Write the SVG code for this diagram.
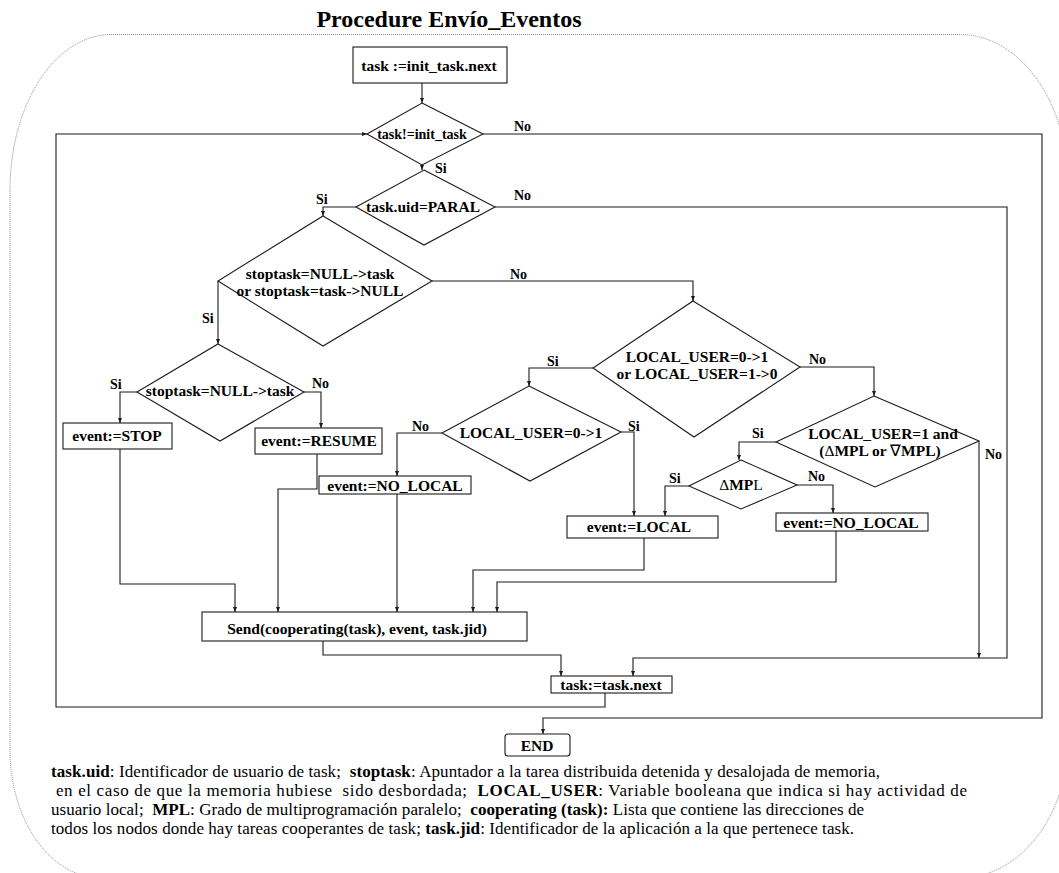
<svg xmlns="http://www.w3.org/2000/svg" width="1059" height="873" viewBox="0 0 1059 873">
  <style>
    .ln { fill: none; stroke: #1a1a1a; stroke-width: 1.1; }
    .nd { fill: #ffffff; stroke: #1a1a1a; stroke-width: 1.1; }
    .t { font-family: "Liberation Serif", "Times New Roman", serif; font-weight: bold; font-size: 15.5px; fill: #000; text-anchor: middle; }
    .lb { font-family: "Liberation Serif", "Times New Roman", serif; font-weight: bold; font-size: 14px; fill: #000; }
    .lg { font-family: "Liberation Serif", "Times New Roman", serif; font-size: 17px; fill: #000; }
    .b { font-weight: bold; }
    .n { font-weight: normal; }
  </style>
  <defs>
    <marker id="arr" viewBox="0 0 6 6" refX="6" refY="3" markerWidth="5" markerHeight="5" markerUnits="userSpaceOnUse" orient="auto">
      <path d="M0,0.6 L6,3 L0,5.4 z" fill="#1a1a1a"/>
    </marker>
  </defs>

  <rect width="1059" height="873" fill="#ffffff"/>

  <!-- dotted frame around the procedure -->
  <path d="M111,34.5 H960 A108,150 0 0 1 1068,184.5 V740 A108,138 0 0 1 960,878 H101 A91,128 0 0 1 10,750 V190 A101,155.5 0 0 1 111,34.5 Z" fill="none" stroke="#8a8a8a" stroke-width="1" stroke-dasharray="1 1"/>

  <text x="449" y="27" style="font-family: 'Liberation Serif', 'Times New Roman', serif; font-weight: bold; font-size: 24px; text-anchor: middle;">Procedure Envío_Eventos</text>

  <!-- connectors -->
  <g id="connectors">
    <polyline class="ln" points="422,83 422,103" marker-end="url(#arr)"/>
    <polyline class="ln" points="422,165 422,170" marker-end="url(#arr)"/>
    <polyline class="ln" points="605,693 605,707 56,707 56,134 367,134" marker-end="url(#arr)"/>
    <polyline class="ln" points="483,134 1042,134 1042,718 543,718 543,734" marker-end="url(#arr)"/>
    <polyline class="ln" points="495,207 1007,207 1007,658 633,658 633,676" marker-end="url(#arr)"/>
    <polyline class="ln" points="356,207 323,207 323,216" marker-end="url(#arr)"/>
    <polyline class="ln" points="432,281 693,281 693,301" marker-end="url(#arr)"/>
    <polyline class="ln" points="218,281 218,344" marker-end="url(#arr)"/>
    <polyline class="ln" points="137,392 120,392 120,423" marker-end="url(#arr)"/>
    <polyline class="ln" points="304,392 321,392 321,428" marker-end="url(#arr)"/>
    <polyline class="ln" points="120,449 120,584 235,584 235,612" marker-end="url(#arr)"/>
    <polyline class="ln" points="317,454 317,489 278,489 278,612" marker-end="url(#arr)"/>
    <polyline class="ln" points="593,368 529,368 529,386" marker-end="url(#arr)"/>
    <polyline class="ln" points="800,367 874,367 874,396" marker-end="url(#arr)"/>
    <polyline class="ln" points="442,433 397,433 397,476" marker-end="url(#arr)"/>
    <polyline class="ln" points="621,432 634,432 634,516" marker-end="url(#arr)"/>
    <polyline class="ln" points="397,494 397,612" marker-end="url(#arr)"/>
    <polyline class="ln" points="776,442 739,442 739,460" marker-end="url(#arr)"/>
    <polyline class="ln" points="979,441 979,658" marker-end="url(#arr)"/>
    <polyline class="ln" points="689,486 665,486 665,516" marker-end="url(#arr)"/>
    <polyline class="ln" points="797,485 833,485 833,513" marker-end="url(#arr)"/>
    <polyline class="ln" points="644,538 644,570 473,570 473,612" marker-end="url(#arr)"/>
    <polyline class="ln" points="836,531 836,582 497,582 497,612" marker-end="url(#arr)"/>
    <polyline class="ln" points="323,641 323,655 561,655 561,676" marker-end="url(#arr)"/>

    <!-- branch labels -->
    <text class="lb" x="514" y="131">No</text>
    <text class="lb" x="435" y="173">Si</text>
    <text class="lb" x="514" y="200">No</text>
    <text class="lb" x="316" y="204">Si</text>
    <text class="lb" x="510" y="279">No</text>
    <text class="lb" x="202" y="323">Si</text>
    <text class="lb" x="110" y="389">Si</text>
    <text class="lb" x="312" y="388">No</text>
    <text class="lb" x="547" y="366">Si</text>
    <text class="lb" x="809" y="364">No</text>
    <text class="lb" x="412" y="431">No</text>
    <text class="lb" x="628" y="431">Si</text>
    <text class="lb" x="752" y="438">Si</text>
    <text class="lb" x="985" y="459">No</text>
    <text class="lb" x="669" y="483">Si</text>
    <text class="lb" x="808" y="481">No</text>
  </g>

  <g id="init">
    <rect class="nd" x="353" y="47" width="154" height="36"/>
    <text class="t" x="429" y="71">task :=init_task.next</text>
  </g>

  <g id="loop-test">
    <polygon class="nd" points="422,103 483,134 422,165 367,134"/>
    <text class="t" x="422" y="139" style="font-size:14px">task!=init_task</text>
  </g>

  <g id="uid-test">
    <polygon class="nd" points="424,170 495,207 424,245 356,207"/>
    <text class="t" x="423" y="212">task.uid=PARAL</text>
  </g>

  <g id="stoptask-test">
    <polygon class="nd" points="323,216 432,281 323,346 218,281"/>
    <text class="t" x="320" y="279">stoptask=NULL-&gt;task</text>
    <text class="t" x="320" y="296">or stoptask=task-&gt;NULL</text>
  </g>

  <g id="stop-test">
    <polygon class="nd" points="218,344 304,392 220,441 137,392"/>
    <text class="t" x="220" y="396">stoptask=NULL-&gt;task</text>
  </g>

  <g id="event-stop">
    <rect class="nd" x="63" y="423" width="109" height="26"/>
    <text class="t" x="117" y="441">event:=STOP</text>
  </g>

  <g id="event-resume">
    <rect class="nd" x="255" y="428" width="127" height="26"/>
    <text class="t" x="319" y="446">event:=RESUME</text>
  </g>

  <g id="local-change-test">
    <polygon class="nd" points="693,301 800,367 694,437 593,368"/>
    <text class="t" x="697" y="362">LOCAL_USER=0-&gt;1</text>
    <text class="t" x="697" y="379">or LOCAL_USER=1-&gt;0</text>
  </g>

  <g id="local-up-test">
    <polygon class="nd" points="529,386 621,432 530,481 442,433"/>
    <text class="t" x="531" y="438">LOCAL_USER=0-&gt;1</text>
  </g>

  <g id="event-nolocal-a">
    <rect class="nd" x="319" y="476" width="152" height="18"/>
    <text class="t" x="395" y="491">event:=NO_LOCAL</text>
  </g>

  <g id="mpl-change-test">
    <polygon class="nd" points="874,396 979,441 875,487 776,442"/>
    <text class="t" x="883" y="439">LOCAL_USER=1 and</text>
    <text class="t" x="880" y="456">(<tspan class="n">Δ</tspan>MPL or <tspan class="n">∇</tspan>MPL)</text>
  </g>

  <g id="mpl-up-test">
    <polygon class="nd" points="741,460 797,485 741,509 689,486"/>
    <text class="t" x="741" y="490"><tspan class="n">Δ</tspan>MP<tspan class="n">L</tspan></text>
  </g>

  <g id="event-local">
    <rect class="nd" x="567" y="516" width="151" height="22"/>
    <text class="t" x="639" y="532">event:=LOCAL</text>
  </g>

  <g id="event-nolocal-b">
    <rect class="nd" x="776" y="513" width="152" height="18"/>
    <text class="t" x="851" y="528">event:=NO_LOCAL</text>
  </g>

  <g id="send">
    <rect class="nd" x="202" y="612" width="325" height="29"/>
    <text class="t" x="357" y="634">Send(cooperating(task), event, task.jid)</text>
  </g>

  <g id="next">
    <rect class="nd" x="551" y="676" width="121" height="17"/>
    <text class="t" x="611" y="690">task:=task.next</text>
  </g>

  <g id="end">
    <rect class="nd" x="505" y="734" width="65" height="22" rx="3"/>
    <text class="t" x="537" y="751">END</text>
  </g>

  <!-- glossary -->
  <g id="legend">
    <text class="lg" x="51" y="777" textLength="829" lengthAdjust="spacing" xml:space="preserve"><tspan class="b">task.uid</tspan>: Identificador de usuario de task;  <tspan class="b">stoptask</tspan>: Apuntador a la tarea distribuida detenida y desalojada de memoria,</text>
    <text class="lg" x="51" y="796" textLength="916" lengthAdjust="spacing" xml:space="preserve"> en el caso de que la memoria hubiese  sido desbordada;  <tspan class="b">LOCAL_USER</tspan>: Variable booleana que indica si hay actividad de</text>
    <text class="lg" x="51" y="815" textLength="813" lengthAdjust="spacing" xml:space="preserve">usuario local;  <tspan class="b">MPL</tspan>: Grado de multiprogramación paralelo;  <tspan class="b">cooperating (task):</tspan> Lista que contiene las direcciones de</text>
    <text class="lg" x="51" y="834" textLength="803" lengthAdjust="spacing" xml:space="preserve">todos los nodos donde hay tareas cooperantes de task; <tspan class="b">task.jid</tspan>: Identificador de la aplicación a la que pertenece task.</text>
  </g>
</svg>
